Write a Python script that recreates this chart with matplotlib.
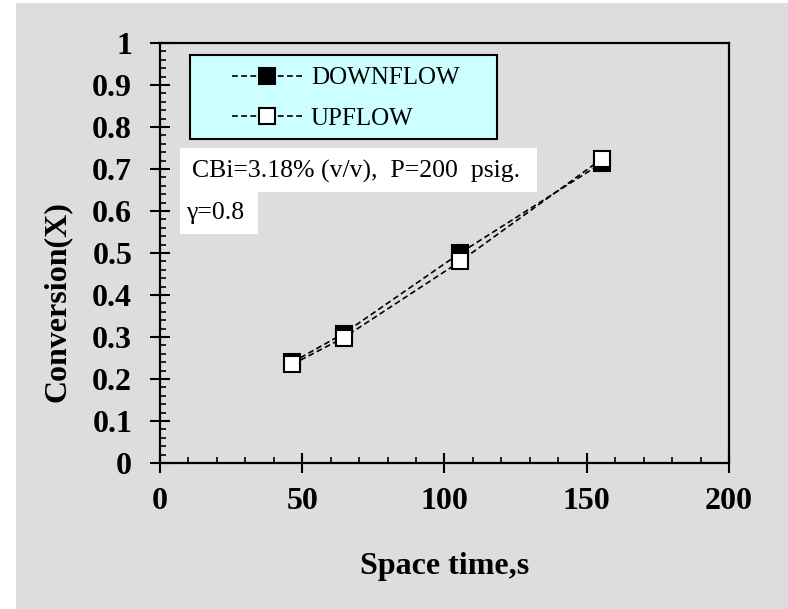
import matplotlib
matplotlib.use("Agg")
import matplotlib.pyplot as plt
from matplotlib.patches import Rectangle
from matplotlib.ticker import MultipleLocator

# ---- data ----
space_time = [46.5, 64.5, 105.5, 155.5]
downflow = [0.240, 0.308, 0.500, 0.715]
upflow = [0.235, 0.298, 0.480, 0.725]
series_labels = ["DOWNFLOW", "UPFLOW"]
x_ticks = [0, 50, 100, 150, 200]
y_ticks = [0, 0.1, 0.2, 0.3, 0.4, 0.5, 0.6, 0.7, 0.8, 0.9, 1]
y_tick_labels = ["0", "0.1", "0.2", "0.3", "0.4", "0.5", "0.6", "0.7", "0.8", "0.9", "1"]
note1 = "CBi=3.18% (v/v),  P=200  psig."
note2 = "\u03b3=0.8"

W, H = 788, 609
GRAY = "#dddddd"
SERIF = ["Liberation Serif", "DejaVu Serif"]
plt.rcParams["font.family"] = SERIF

fig = plt.figure(figsize=(W / 100, H / 100), dpi=100, facecolor="white")

def fx(x):
    return x / W

def fy(y):
    return 1 - y / H

# gray background panel
fig.patches.append(Rectangle((fx(16), 0), 1 - fx(16), fy(3), transform=fig.transFigure,
                             facecolor=GRAY, edgecolor="none", zorder=-5))

ax = fig.add_axes([fx(160), fy(463), fx(729) - fx(160), fy(43) - fy(463)])
ax.set_zorder(1)
ax.patch.set_alpha(0)

ls = (0, (3.5, 2))
ax.plot(space_time, downflow, linestyle=ls, color="black", lw=1.2, marker="s", ms=11,
        mfc="black", mec="black", mew=1.5, label=series_labels[0], zorder=3)
ax.plot(space_time, upflow, linestyle=ls, color="black", lw=1.2, marker="s", ms=11,
        mfc="white", mec="black", mew=1.5, label=series_labels[1], zorder=4)

ax.set_xlim(0, 200)
ax.set_ylim(0, 1)
ax.set_xticks(x_ticks)
ax.set_yticks(y_ticks)
ax.set_yticklabels(y_tick_labels)
ax.xaxis.set_minor_locator(MultipleLocator(10))
ax.yaxis.set_minor_locator(MultipleLocator(0.02))
ax.tick_params(which="major", direction="inout", length=14, width=1.5, labelsize=23)
ax.tick_params(axis="x", which="major", pad=10)
ax.tick_params(axis="y", which="major", pad=13)
ax.tick_params(which="minor", direction="in", length=4, width=1.2)
ax.tick_params(top=False, right=False, which="both")
for lab in ax.get_xticklabels() + ax.get_yticklabels():
    lab.set_fontweight("bold")
for s in ax.spines.values():
    s.set_linewidth(1.6)

ax.set_xlabel("Space time,s", fontsize=23, fontweight="bold")
ax.set_ylabel("Conversion(X)", fontsize=23, fontweight="bold")
ax.xaxis.set_label_coords(0.5, (463 - 552) / 420)
ax.yaxis.set_label_coords((72 - 160) / 569, (463 - 302) / 420)

# legend box
fig.patches.append(Rectangle((fx(190), fy(139)), fx(497) - fx(190), fy(55) - fy(139),
                             transform=fig.transFigure, facecolor="#ccffff",
                             edgecolor="black", lw=1.5, zorder=5))
leg = fig.legend(loc="upper left", bbox_to_anchor=(fx(232), fy(67)), frameon=False,
                 fontsize=18, handlelength=2.8, handletextpad=0.35, labelspacing=0.72,
                 borderpad=0, borderaxespad=0)
leg.set_zorder(6)

# annotation boxes
fig.patches.append(Rectangle((fx(180), fy(192)), fx(537) - fx(180), fy(148) - fy(192),
                             transform=fig.transFigure, facecolor="white",
                             edgecolor="none", zorder=5))
fig.patches.append(Rectangle((fx(180), fy(234)), fx(258) - fx(180), fy(192) - fy(234),
                             transform=fig.transFigure, facecolor="white",
                             edgecolor="none", zorder=5))
fig.text(fx(192), fy(171), note1, fontsize=18.5, ha="left", va="center", zorder=6)
fig.text(fx(186), fy(213), note2, fontsize=18.5, ha="left", va="center", zorder=6)

fig.savefig("out.png", dpi=100, facecolor="white")
